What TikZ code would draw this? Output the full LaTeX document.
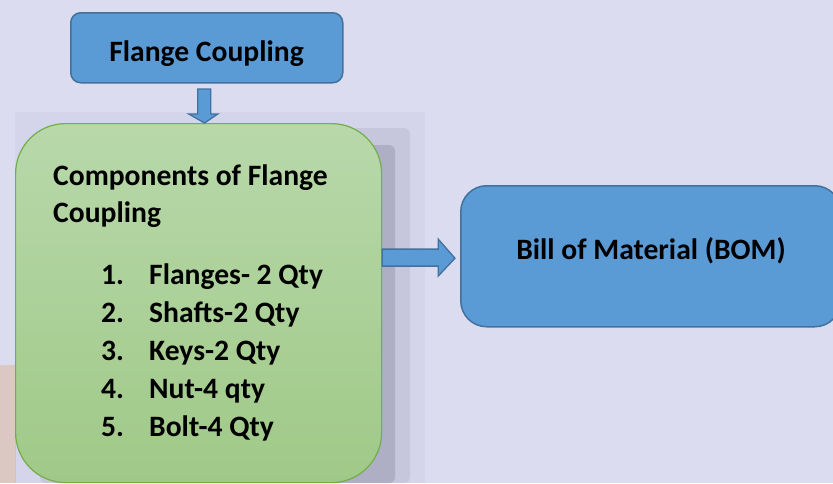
\documentclass[tikz,border=0pt]{standalone}
\usepackage{fontspec}
\setmainfont{Carlito}
\usetikzlibrary{calc}
\definecolor{bgc}{HTML}{DCDCF1}
\definecolor{bluefill}{HTML}{5B9BD5}
\definecolor{blueline}{HTML}{41719C}
\definecolor{greentop}{HTML}{B8D8AA}
\definecolor{greenbot}{HTML}{A0C988}
\definecolor{greenline}{HTML}{72AE4A}
\definecolor{shadowc}{HTML}{50506A}
\definecolor{tanc}{HTML}{DCC8C2}
\tikzset{
  bluebox/.style={draw=blueline, line width=1.5pt, fill=bluefill, inner sep=0pt},
  greenbox/.style={draw=greenline, line width=1.2pt, top color=greentop, bottom color=greenbot, inner sep=0pt},
  blockarrow/.style={draw=blueline, line width=1.3pt, fill=bluefill, line join=miter},
  txt/.style={font=\bfseries\fontsize{29.6}{35}\selectfont, text=black, inner sep=0pt, anchor=base west},
}
\begin{document}
\begin{tikzpicture}[x=1pt,y=-1pt]
\useasboundingbox (0,0) rectangle (833,483);
\fill[bgc] (0,0) rectangle (833,483);
% faint tan blur at bottom left
\fill[tanc] (0,365) rectangle (16,483);
% blurred shadow behind the green box
\fill[shadowc, opacity=0.05] (15,112) rectangle (425,483);
\fill[shadowc, opacity=0.10, rounded corners=6pt] (40,128) rectangle (410,483);
\fill[shadowc, opacity=0.20, rounded corners=6pt] (60,145) rectangle (395,483);

% boxes
\node[bluebox, rounded corners=10pt, minimum width=272pt, minimum height=70pt, anchor=north west] (top) at (70,12) {};
\node[greenbox, rounded corners=50pt, minimum width=366pt, minimum height=359pt, anchor=north west] (comp) at (15,123) {};
\node[bluebox, rounded corners=26pt, minimum width=380pt, minimum height=141pt, anchor=north west] (bom) at (460,185) {};

% texts
\node[txt, anchor=base] (toptxt) at (206.5,61) {Flange Coupling};
\node[txt] (c1) at (53,185) {Components of Flange};
\node[txt] (c2) at (53,222.5) {Coupling};
\node[txt] (n1) at (101,284) {1.};
\node[txt] (t1) at (149,284) {Flanges- 2 Qty};
\node[txt] (n2) at (101,322.3) {2.};
\node[txt] (t2) at (149,322.3) {Shafts-2 Qty};
\node[txt] (n3) at (101,360.3) {3.};
\node[txt] (t3) at (149,360.3) {Keys-2 Qty};
\node[txt] (n4) at (101,398.4) {4.};
\node[txt] (t4) at (149,398.4) {Nut-4 qty};
\node[txt] (n5) at (101,436.6) {5.};
\node[txt] (t5) at (149,436.6) {Bolt-4 Qty};
\node[txt, anchor=base] (bomtxt) at (651,259) {Bill of Material (BOM)};

% down block arrow from top box to green box
\coordinate (dA) at ($(top.south)+(-2.5,5.5)$);
\draw[blockarrow]
  ($(dA)+(-6.5,0)$) -- ($(dA)+(6.5,0)$) -- ($(dA)+(6.5,25)$) -- ($(dA)+(13.5,25)$)
  -- ($(comp.north)+(6,0)$) -- ($(dA)+(-15.5,25)$) -- ($(dA)+(-6.5,25)$) -- cycle;
% right block arrow from green box to BOM box
\draw[blockarrow]
  ($(comp.east)+(0,-54)$) -- ($(comp.east)+(56,-54)$) -- ($(comp.east)+(56,-64)$)
  -- ($(bom.west)+(-5,2)$) -- ($(comp.east)+(56,-27)$) -- ($(comp.east)+(56,-37)$)
  -- ($(comp.east)+(0,-37)$) -- cycle;
\end{tikzpicture}
\end{document}
